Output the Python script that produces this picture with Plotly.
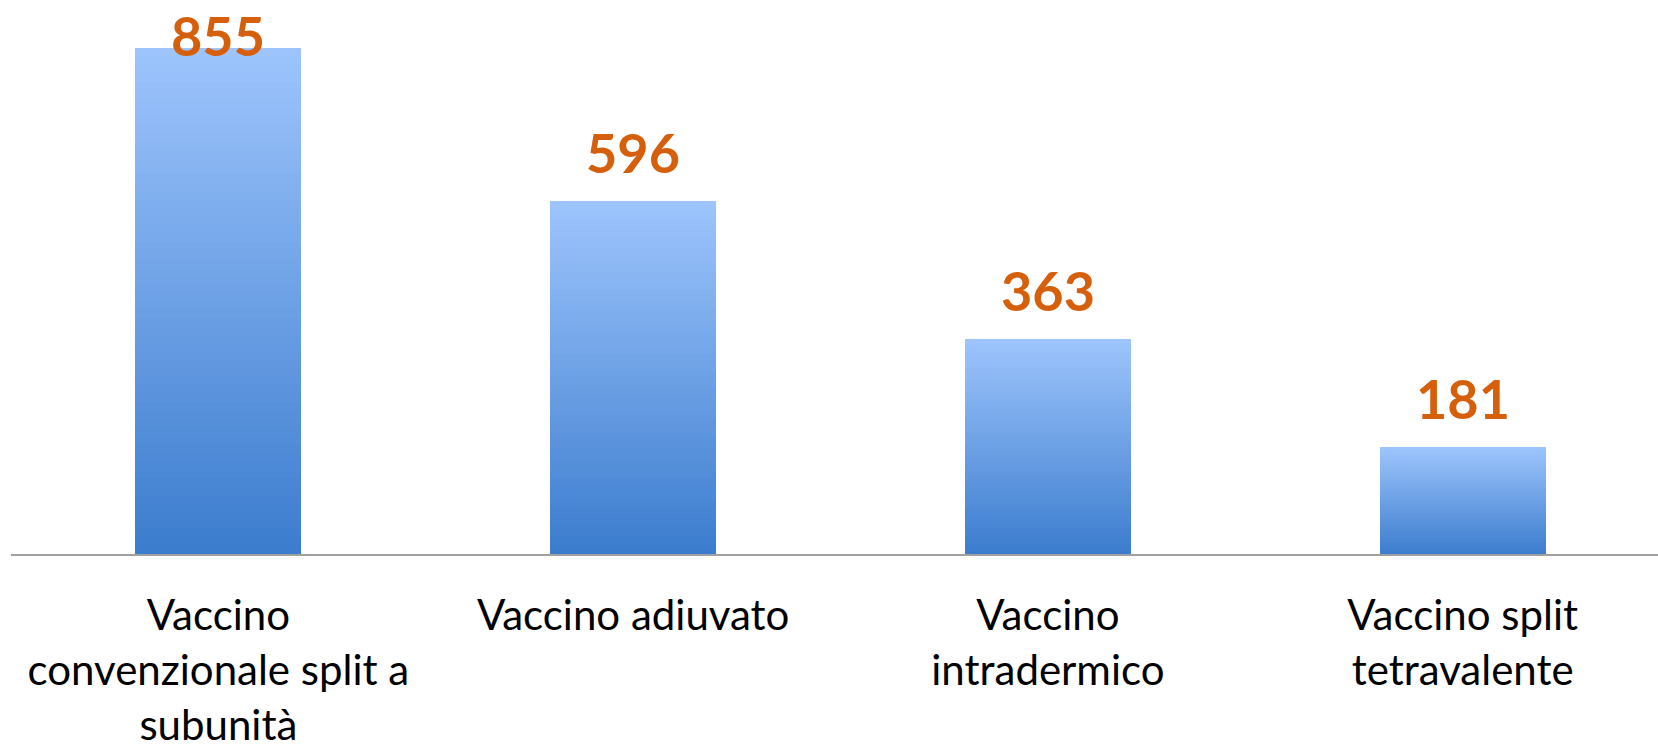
import plotly.graph_objects as go

categories = ["Vaccino convenzionale split a subunità", "Vaccino adiuvato",
              "Vaccino intradermico", "Vaccino split tetravalente"]
tick_labels = ["Vaccino<br>convenzionale split a<br>subunità", "Vaccino adiuvato",
               "Vaccino<br>intradermico", "Vaccino split<br>tetravalente"]
values = [855, 596, 363, 181]

W, H = 1658, 753
M_L, M_R, M_T, M_B = 11, 0, 0, 199
Y_MAX = 936
N_SEG = 60
top_rgb = (157, 196, 252)
bot_rgb = (60, 125, 206)

fig = go.Figure()
for i in range(N_SEG):
    f = i / (N_SEG - 1)
    c = tuple(round(bot_rgb[k] + (top_rgb[k] - bot_rgb[k]) * f) for k in range(3))
    fig.add_bar(x=categories, y=[v / N_SEG for v in values],
                marker=dict(color=f"rgb{c}", line=dict(width=0)),
                hoverinfo="skip", showlegend=False)

plot_h = H - M_T - M_B
px_per_unit = plot_h / Y_MAX
for cat, v in zip(categories, values):
    top_px = M_T + plot_h - v * px_per_unit
    shift = min(14, top_px - 70)
    fig.add_annotation(x=cat, y=v, text=str(v), showarrow=False, yanchor="bottom",
                       yshift=shift,
                       font=dict(family="Lato", size=54, color="#D65F0C", weight="bold"))

fig.update_layout(
    width=W, height=H, barmode="stack", bargap=0.6,
    margin=dict(l=M_L, r=M_R, t=M_T, b=M_B, autoexpand=False),
    plot_bgcolor="white", paper_bgcolor="white",
    xaxis=dict(range=[-0.5, 3.471], tickvals=categories, ticktext=tick_labels,
               showline=True, linecolor="#A0A0A0", linewidth=2, ticks="",
               showgrid=False, ticklabelstandoff=24, automargin=False,
               tickfont=dict(family="Lato", size=42, color="black")),
    yaxis=dict(range=[0, Y_MAX], visible=False, showgrid=False, automargin=False),
)
fig.write_html("out.html", config={"displayModeBar": False},
               post_script="document.body.style.margin='0';")
